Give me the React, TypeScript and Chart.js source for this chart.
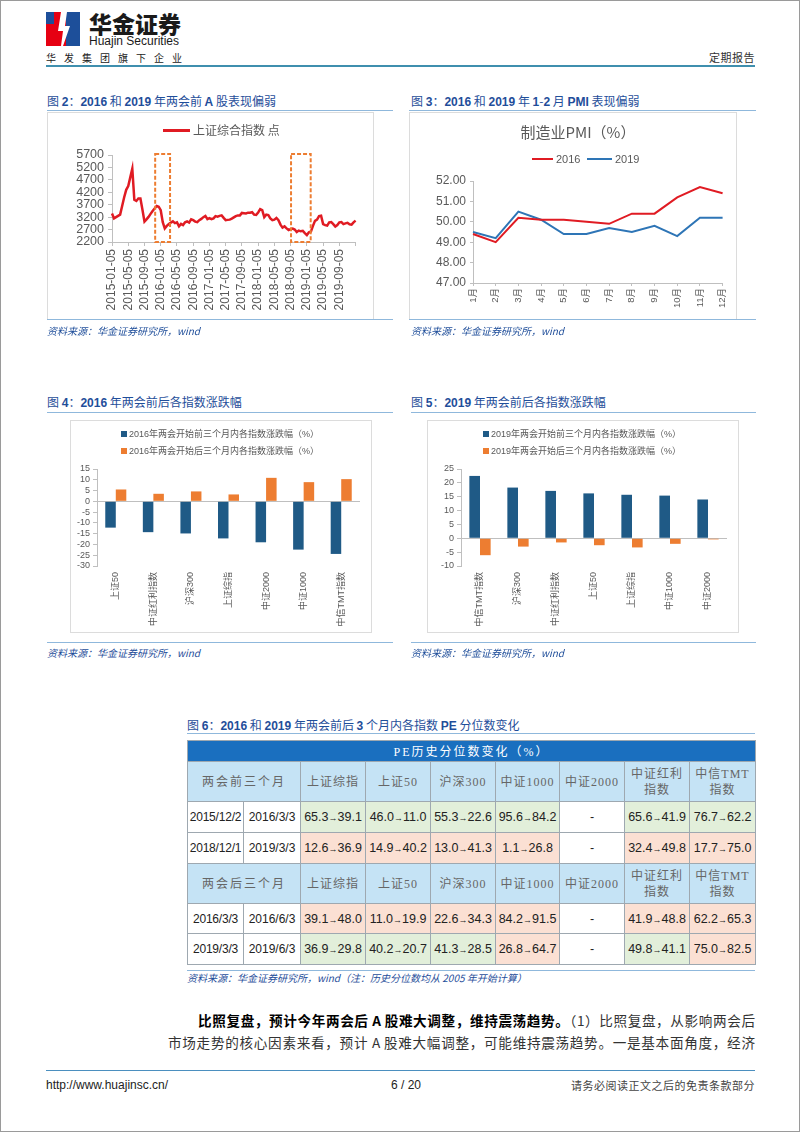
import React, { useEffect, useRef } from "react";
import { Chart, registerables } from "chart.js";
Chart.register(...registerables);

const FONT = '"Liberation Sans", Arial, "Noto Sans CJK SC", sans-serif';
const CJK = '"Noto Sans CJK SC", "Liberation Sans", sans-serif';
const SERIF = '"Liberation Serif", "Noto Sans CJK SC", serif';
const AX = "#bfbfbf";
const TXT = "#595959";
const TITLE_C = "#1f4e9a";
const RULE_C = "#8fb8dc";

// ---------- 图2 上证综合指数 ----------
const SH_DATES: string[] = [];
for (let i = 0; i <= 120; i++) {
  const m = Math.floor(i / 2);
  const y = 2015 + Math.floor(m / 12);
  const mo = (m % 12) + 1;
  SH_DATES.push(`${y}-${String(mo).padStart(2, "0")}-${i % 2 === 0 ? "05" : "20"}`);
}
const SH_INDEX = [
  3350, 3150, 3200, 3250, 3300, 3650, 4000, 4300, 4450, 4800,
  5150, 3900, 3850, 3950, 3950, 3500, 3020, 3110, 3210, 3330,
  3450, 3550, 3650, 3620, 3480, 3000, 2750, 2850, 2920, 2980,
  3030, 2960, 2990, 2830, 2930, 2880, 2990, 3030, 2980, 3110,
  3080, 3020, 3000, 3080, 3130, 3200, 3250, 3120, 3160, 3120,
  3150, 3240, 3220, 3250, 3270, 3170, 3080, 3090, 3100, 3140,
  3190, 3240, 3270, 3270, 3370, 3360, 3350, 3380, 3380, 3400,
  3300, 3290, 3390, 3520, 3480, 3200, 3300, 3280, 3150, 3080,
  3100, 3170, 3080, 2900, 2780, 2830, 2750, 2680, 2720, 2740,
  2700, 2600, 2660, 2630, 2650, 2560, 2480, 2590, 2620, 2850,
  3050, 3100, 3240, 3260, 2920, 2880, 2860, 2990, 3000, 2920,
  2820, 2880, 2990, 3000, 2920, 2950, 2970, 2910, 2900, 2990, 3060,
];
const SH_BOXES = [
  { from: "2015-11-24", to: "2016-03-14" },
  { from: "2018-09-08", to: "2019-02-03" },
];
const SH_BOX_VALUES = { low: 2200, high: 5740 };
const SH_LAST_LABEL = "2019-09-05";

// ---------- 图3 PMI ----------
const PMI_MONTHS = ["1月", "2月", "3月", "4月", "5月", "6月", "7月", "8月", "9月", "10月", "11月", "12月"];
const PMI_2016 = [49.4, 49.0, 50.2, 50.1, 50.1, 50.0, 49.9, 50.4, 50.4, 51.2, 51.7, 51.4];
const PMI_2019 = [49.5, 49.2, 50.5, 50.1, 49.4, 49.4, 49.7, 49.5, 49.8, 49.3, 50.2, 50.2];

// ---------- 图4 2016 ----------
const CATS_2016 = ["上证50", "中证红利指数", "沪深300", "上证综指", "中证2000", "中证1000", "中信TMT指数"];
const BEFORE_2016 = [-12.2, -14.3, -14.9, -17.2, -19.0, -22.4, -24.4];
const AFTER_2016 = [5.5, 3.5, 4.6, 3.2, 10.9, 8.9, 10.3];

// ---------- 图5 2019 ----------
const CATS_2019 = ["中信TMT指数", "沪深300", "中证红利指数", "上证50", "上证综指", "中证1000", "中证2000"];
const BEFORE_2019 = [22.5, 18.3, 17.1, 16.2, 15.7, 15.4, 14.0];
const AFTER_2019 = [-6.1, -3.0, -1.5, -2.5, -3.3, -2.0, -0.4];

// ---------- 图6 table ----------
const TABLE_COLS = ["上证综指", "上证50", "沪深300", "中证1000", "中证2000", "中证红利\n指数", "中信TMT\n指数"];
const PERIODS_BEFORE = [["2015/12/2", "2016/3/3"], ["2018/12/1", "2019/3/3"]];
const PERIODS_AFTER = [["2016/3/3", "2016/6/3"], ["2019/3/3", "2019/6/3"]];
const PE_BEFORE_2016 = [[65.3, 39.1], [46.0, 11.0], [55.3, 22.6], [95.6, 84.2], null, [65.6, 41.9], [76.7, 62.2]];
const PE_BEFORE_2019 = [[12.6, 36.9], [14.9, 40.2], [13.0, 41.3], [1.1, 26.8], null, [32.4, 49.8], [17.7, 75.0]];
const PE_AFTER_2016 = [[39.1, 48.0], [11.0, 19.9], [22.6, 34.3], [84.2, 91.5], null, [41.9, 48.8], [62.2, 65.3]];
const PE_AFTER_2019 = [[36.9, 29.8], [40.2, 20.7], [41.3, 28.5], [26.8, 64.7], null, [49.8, 41.1], [75.0, 82.5]];

const BAR_BLUE = "#1f5a86";
const BAR_ORANGE = "#ed7d31";
const RED = "#e01b23";
const BLUE = "#2e75b6";

function dateToIndex(d: string): number {
  const t = Date.parse(d);
  for (let i = 0; i < SH_DATES.length - 1; i++) {
    const a = Date.parse(SH_DATES[i]);
    const b = Date.parse(SH_DATES[i + 1]);
    if (t >= a && t <= b) return i + (t - a) / (b - a);
  }
  return SH_DATES.length - 1;
}

const boxPlugin = {
  id: "boxes",
  afterDatasetsDraw(chart: any) {
    const { ctx, scales } = chart;
    const x = scales.x;
    const y = scales.y;
    ctx.save();
    ctx.strokeStyle = "#ed7d31";
    ctx.lineWidth = 2;
    ctx.setLineDash([4, 2]);
    SH_BOXES.forEach((b) => {
      const x1 = x.getPixelForValue(dateToIndex(b.from));
      const x2 = x.getPixelForValue(dateToIndex(b.to));
      const y1 = y.getPixelForValue(SH_BOX_VALUES.high);
      const y2 = y.getPixelForValue(SH_BOX_VALUES.low);
      ctx.strokeRect(x1, y1, x2 - x1, y2 - y1);
    });
    ctx.restore();
  },
};

function ChartCanvas(props: { left: number; top: number; width: number; height: number; build: () => any }) {
  const ref = useRef<HTMLCanvasElement>(null);
  useEffect(() => {
    const chart = new Chart(ref.current as HTMLCanvasElement, props.build());
    return () => chart.destroy();
  }, []);
  return (
    <canvas
      ref={ref}
      width={props.width}
      height={props.height}
      style={{ position: "absolute", left: props.left, top: props.top, width: props.width, height: props.height }}
    />
  );
}

const baseOpts = {
  responsive: false,
  animation: false,
  devicePixelRatio: 1,
  plugins: { legend: { display: false }, tooltip: { enabled: false } },
};

const lastIdx = SH_DATES.indexOf(SH_LAST_LABEL);

function buildSH() {
  return {
    type: "line",
    data: {
      labels: SH_DATES,
      datasets: [
        { label: "上证综合指数 点", data: SH_INDEX, borderColor: RED, borderWidth: 2.5, pointRadius: 0, tension: 0, fill: false },
      ],
    },
    options: {
      ...baseOpts,
      layout: { padding: { top: 43, right: 15, left: 0, bottom: 0 } },
      scales: {
        x: {
          afterFit: (s: any) => { s.height = 77; },
          border: { display: true, color: AX },
          grid: {
            drawOnChartArea: false, drawTicks: true, tickLength: 4,
            tickColor: (c: any) => (c.index % 8 === 0 ? AX : "rgba(0,0,0,0)"),
          },
          ticks: {
            autoSkip: false, maxRotation: 90, minRotation: 90, padding: 3,
            font: { size: 12, family: FONT }, color: TXT,
            callback: (_v: any, i: number) => (i % 8 === 0 && i <= lastIdx ? SH_DATES[i] : ""),
          },
        },
        y: {
          min: 2200, max: 5700,
          afterFit: (s: any) => { s.width = 65; },
          border: { display: true, color: AX },
          grid: { drawOnChartArea: false, tickLength: 4, tickColor: AX },
          ticks: { autoSkip: false, stepSize: 500, padding: 4, font: { size: 12.5, family: FONT }, color: TXT, callback: (v: any) => String(v) },
        },
      },
    },
    plugins: [boxPlugin],
  };
}

function buildPMI() {
  return {
    type: "line",
    data: {
      labels: PMI_MONTHS,
      datasets: [
        { label: "2016", data: PMI_2016, borderColor: RED, borderWidth: 2, pointRadius: 0, tension: 0 },
        { label: "2019", data: PMI_2019, borderColor: BLUE, borderWidth: 2, pointRadius: 0, tension: 0 },
      ],
    },
    options: {
      ...baseOpts,
      layout: { padding: { top: 69, right: 11, left: 0, bottom: 0 } },
      scales: {
        x: {
          afterFit: (s: any) => { s.height = 36; },
          border: { display: true, color: AX },
          grid: { drawOnChartArea: false, tickLength: 3, tickColor: AX },
          ticks: { autoSkip: false, maxRotation: 90, minRotation: 90, padding: 2, font: { size: 9.5, family: FONT }, color: TXT },
        },
        y: {
          min: 47, max: 52,
          afterFit: (s: any) => { s.width = 64; },
          border: { display: true, color: AX },
          grid: { drawOnChartArea: false, tickLength: 3, tickColor: AX },
          ticks: { autoSkip: false, stepSize: 1, padding: 4, font: { size: 12, family: FONT }, color: TXT, callback: (v: any) => Number(v).toFixed(2) },
        },
      },
    },
  };
}

function buildBars(cats: string[], before: number[], after: number[], labels: string[], min: number, max: number, yWidth: number) {
  return {
    type: "bar",
    data: {
      labels: cats,
      datasets: [
        { label: labels[0], data: before, backgroundColor: BAR_BLUE, categoryPercentage: 0.56, barPercentage: 1.0 },
        { label: labels[1], data: after, backgroundColor: BAR_ORANGE, categoryPercentage: 0.56, barPercentage: 1.0 },
      ],
    },
    options: {
      ...baseOpts,
      layout: { padding: { top: 49, right: 11, left: 0, bottom: 0 } },
      scales: {
        x: {
          afterFit: (s: any) => { s.height = 66; },
          border: { display: false },
          grid: { display: false, drawTicks: false },
          ticks: { autoSkip: false, maxRotation: 90, minRotation: 90, padding: 6, font: { size: 9, family: FONT }, color: TXT },
        },
        y: {
          min, max,
          afterFit: (s: any) => { s.width = yWidth; },
          border: { display: true, color: AX },
          grid: {
            drawOnChartArea: true,
            color: (c: any) => (c.tick && c.tick.value === 0 ? AX : "rgba(0,0,0,0)"),
            tickColor: AX, tickLength: 4,
          },
          ticks: { autoSkip: false, stepSize: 5, padding: 3, font: { size: 9, family: FONT }, color: TXT, callback: (v: any) => String(v) },
        },
      },
    },
  };
}

function abs(left: number, top: number, extra: any = {}) {
  return { position: "absolute" as const, left, top, ...extra };
}

function Title(props: { text: string; left: number; cy: number }) {
  const parts = props.text.split(/([0-9A-Za-z]+)/);
  return (
    <div style={abs(props.left, props.cy - 8, { fontSize: 12, lineHeight: "16px", color: TITLE_C, fontFamily: CJK, whiteSpace: "nowrap" })}>
      {parts.map((p, i) =>
        /[0-9A-Za-z]/.test(p) ? (
          <b key={i} style={{ fontFamily: FONT }}>{p}</b>
        ) : (
          <span key={i}>{p}</span>
        )
      )}
    </div>
  );
}

function Rule(props: { left: number; top: number; width: number; color?: string; h?: number }) {
  return <div style={abs(props.left, props.top, { width: props.width, height: props.h || 1, background: props.color || RULE_C })} />;
}

function Source(props: { left: number; cy: number; text: string }) {
  return (
    <div style={abs(props.left, props.cy - 7, { fontSize: 10, lineHeight: "14px", fontStyle: "italic", color: TITLE_C, fontFamily: CJK, whiteSpace: "nowrap" })}>
      {props.text}
    </div>
  );
}

function Box(props: { left: number; top: number; right: number; bottom: number }) {
  return (
    <div
      style={abs(props.left, props.top, {
        width: props.right - props.left, height: props.bottom - props.top,
        border: "1px solid #dcdcdc", boxSizing: "border-box", pointerEvents: "none",
      })}
    />
  );
}

function SqLegend(props: { left: number; cy: number; color: string; text: string }) {
  return (
    <div style={abs(props.left, props.cy - 7, { height: 14, display: "flex", alignItems: "center", whiteSpace: "nowrap" })}>
      <div style={{ width: 6, height: 6, background: props.color, marginRight: 2 }} />
      <span style={{ fontSize: 9, color: TXT, fontFamily: FONT, lineHeight: "14px" }}>{props.text}</span>
    </div>
  );
}

const BORDER = "1px solid #9ea8b0";

function peCell(v: number[] | null, key: number) {
  const base: any = { border: BORDER, textAlign: "center", fontFamily: FONT, fontSize: 12.5, color: "#222", padding: 0 };
  if (!v) return <td key={key} style={{ ...base, background: "#ffffff" }}>-</td>;
  const bg = v[1] < v[0] ? "#e2efda" : "#fbe0d3";
  return (
    <td key={key} style={{ ...base, background: bg, whiteSpace: "nowrap" }}>
      {v[0].toFixed(1)}
      <span style={{ fontSize: 9 }}>→</span>
      {v[1].toFixed(1)}
    </td>
  );
}

function headRow(label: string, h: number) {
  const st: any = { border: BORDER, background: "#c5e3f5", textAlign: "center", fontFamily: SERIF, fontSize: 12, color: "#666", lineHeight: "16px", padding: 0, height: h };
  return (
    <tr>
      <td colSpan={2} style={{ ...st, letterSpacing: 2 }}>{label}</td>
      {TABLE_COLS.map((c, i) => (
        <td key={i} style={{ ...st, letterSpacing: 1 }}>
          {c.split("\n").map((s, j) => (
            <div key={j}>{s}</div>
          ))}
        </td>
      ))}
    </tr>
  );
}

function dataRow(period: string[], vals: (number[] | null)[], h: number) {
  const st: any = { border: BORDER, textAlign: "center", fontFamily: FONT, fontSize: 12, color: "#222", padding: 0, height: h, background: "#fff", whiteSpace: "nowrap" };
  return (
    <tr>
      <td style={{ ...st, letterSpacing: -0.2 }}>{period[0]}</td>
      <td style={st}>{period[1]}</td>
      {vals.map((v, i) => peCell(v, i))}
    </tr>
  );
}

function Logo() {
  return (
    <svg width={34} height={34} viewBox="0 0 34 34" style={abs(46, 12)}>
      <rect x={0} y={0} width={34} height={34} fill="#e60012" />
      <rect x={20} y={0} width={14} height={34} fill="#1d4f9a" />
      <rect x={0} y={0} width={8} height={12} fill="#1d4f9a" />
      <polygon points="15,0 21,0 19,14 24,14 17,34 15,34 17,19 12,19" fill="#ffffff" />
    </svg>
  );
}

export default function App() {
  useEffect(() => {
    document.body.style.margin = "0";
  }, []);
  const colW = [56, 57, 65, 65, 65, 64, 65, 65, 66];
  return (
    <div style={{ position: "absolute", left: 0, top: 0, width: 802, height: 1133, background: "#fff", overflow: "hidden", fontFamily: CJK }}>
      <div style={abs(0, 0, { width: 800, height: 1132, border: "1px solid #9a9a9a", boxSizing: "border-box" })} />

      {/* header */}
      <Logo />
      <div style={abs(89, 10, { fontSize: 23, fontWeight: 900, lineHeight: "27px", color: "#1a1a1a", fontFamily: CJK, whiteSpace: "nowrap" })}>华金证券</div>
      <div style={abs(89, 34, { fontSize: 12, lineHeight: "14px", color: "#1a1a1a", fontFamily: FONT, whiteSpace: "nowrap" })}>Huajin Securities</div>
      <div style={abs(46, 51, { fontSize: 10, lineHeight: "14px", letterSpacing: 8, color: "#222", whiteSpace: "nowrap" })}>华发集团旗下企业</div>
      <div style={abs(700, 49, { width: 55, textAlign: "right", fontSize: 11, lineHeight: "16px", letterSpacing: 0.5, color: "#333", whiteSpace: "nowrap" })}>定期报告</div>
      <Rule left={46} top={65} width={709} h={2} color="#3f8fae" />

      {/* 图2 */}
      <Title text="图 2：2016 和 2019 年两会前 A 股表现偏弱" left={47} cy={101} />
      <Rule left={47} top={110} width={346} />
      <ChartCanvas left={47} top={112} width={326} height={207} build={buildSH} />
      <Box left={47} top={112} right={374} bottom={320} />
      <div style={abs(163, 129, { width: 27, height: 3, background: RED })} />
      <div style={abs(193, 122, { fontSize: 12, lineHeight: "16px", color: TXT, whiteSpace: "nowrap" })}>上证综合指数 点</div>
      <Rule left={47} top={319} width={346} />
      <Source left={47} cy={331} text="资料来源：华金证券研究所，wind" />

      {/* 图3 */}
      <Title text="图 3：2016 和 2019 年 1-2 月 PMI 表现偏弱" left={411} cy={101} />
      <Rule left={409} top={110} width={347} />
      <ChartCanvas left={409} top={112} width={327} height={207} build={buildPMI} />
      <Box left={409} top={112} right={737} bottom={320} />
      <div style={abs(478, 121, { width: 200, textAlign: "center", fontSize: 15, lineHeight: "22px", color: TXT, whiteSpace: "nowrap" })}>制造业PMI（%）</div>
      <div style={abs(532, 158, { width: 21, height: 2, background: RED })} />
      <div style={abs(556, 152, { fontSize: 11, lineHeight: "14px", color: TXT, fontFamily: FONT })}>2016</div>
      <div style={abs(587, 158, { width: 25, height: 2, background: BLUE })} />
      <div style={abs(615, 152, { fontSize: 11, lineHeight: "14px", color: TXT, fontFamily: FONT })}>2019</div>
      <Rule left={409} top={319} width={347} />
      <Source left={411} cy={331} text="资料来源：华金证券研究所，wind" />

      {/* 图4 */}
      <Title text="图 4：2016 年两会前后各指数涨跌幅" left={47} cy={402} />
      <Rule left={47} top={412} width={346} />
      <ChartCanvas
        left={70} top={420} width={301} height={212}
        build={() => buildBars(CATS_2016, BEFORE_2016, AFTER_2016, ["2016年两会开始前三个月内各指数涨跌幅（%）", "2016年两会开始后三个月内各指数涨跌幅（%）"], -30, 15, 27)}
      />
      <Box left={70} top={420} right={372} bottom={633} />
      <SqLegend left={121} cy={434} color={BAR_BLUE} text="2016年两会开始前三个月内各指数涨跌幅（%）" />
      <SqLegend left={121} cy={451} color={BAR_ORANGE} text="2016年两会开始后三个月内各指数涨跌幅（%）" />
      <Rule left={47} top={642} width={346} />
      <Source left={47} cy={653} text="资料来源：华金证券研究所，wind" />

      {/* 图5 */}
      <Title text="图 5：2019 年两会前后各指数涨跌幅" left={411} cy={402} />
      <Rule left={411} top={412} width={345} />
      <ChartCanvas
        left={427} top={420} width={311} height={212}
        build={() => buildBars(CATS_2019, BEFORE_2019, AFTER_2019, ["2019年两会开始前三个月内各指数涨跌幅（%）", "2019年两会开始后三个月内各指数涨跌幅（%）"], -10, 25, 34)}
      />
      <Box left={427} top={420} right={739} bottom={633} />
      <SqLegend left={483} cy={434} color={BAR_BLUE} text="2019年两会开始前三个月内各指数涨跌幅（%）" />
      <SqLegend left={483} cy={451} color={BAR_ORANGE} text="2019年两会开始后三个月内各指数涨跌幅（%）" />
      <Rule left={411} top={642} width={345} />
      <Source left={411} cy={653} text="资料来源：华金证券研究所，wind" />

      {/* 图6 table */}
      <Title text="图 6：2016 和 2019 年两会前后 3 个月内各指数 PE 分位数变化" left={187} cy={725} />
      <Rule left={187} top={733} width={568} />
      <table style={abs(187, 740, { width: 568, borderCollapse: "collapse", tableLayout: "fixed" })}>
        <colgroup>
          {colW.map((w, i) => (
            <col key={i} style={{ width: w }} />
          ))}
        </colgroup>
        <tbody>
          <tr>
            <td colSpan={9} style={{ border: BORDER, background: "#1a6fbf", color: "#fff", textAlign: "center", fontFamily: SERIF, fontSize: 12, letterSpacing: 2, height: 20, padding: 0 }}>
              PE历史分位数变化（%）
            </td>
          </tr>
          {headRow("两会前三个月", 39)}
          {dataRow(PERIODS_BEFORE[0], PE_BEFORE_2016, 30)}
          {dataRow(PERIODS_BEFORE[1], PE_BEFORE_2019, 30)}
          {headRow("两会后三个月", 39)}
          {dataRow(PERIODS_AFTER[0], PE_AFTER_2016, 29)}
          {dataRow(PERIODS_AFTER[1], PE_AFTER_2019, 30)}
        </tbody>
      </table>
      <Rule left={187} top={970} width={568} />
      <Source left={187} cy={978} text="资料来源：华金证券研究所，wind（注：历史分位数均从 2005 年开始计算）" />

      {/* body text */}
      <div style={abs(198, 1009, { width: 557, fontSize: 13.6, lineHeight: "22px", textAlign: "justify", textAlignLast: "justify", color: "#333" })}>
        <b style={{ color: "#000" }}>比照复盘，预计今年两会后 A 股难大调整，维持震荡趋势。</b>
        <span>（1）比照复盘，从影响两会后</span>
      </div>
      <div style={abs(168, 1031, { width: 587, fontSize: 13.6, lineHeight: "22px", textAlign: "justify", textAlignLast: "justify", color: "#333" })}>
        市场走势的核心因素来看，预计 A 股难大幅调整，可能维持震荡趋势。一是基本面角度，经济
      </div>

      {/* footer */}
      <Rule left={46} top={1070} width={709} color="#4b8fbf" />
      <div style={abs(46, 1078, { fontSize: 12, lineHeight: "14px", color: "#222", fontFamily: FONT })}>http://www.huajinsc.cn/</div>
      <div style={abs(376, 1078, { width: 60, textAlign: "center", fontSize: 12, lineHeight: "14px", color: "#222", fontFamily: FONT })}>6 / 20</div>
      <div style={abs(555, 1078, { width: 200, textAlign: "right", fontSize: 11, letterSpacing: 0.5, lineHeight: "14px", color: "#444", whiteSpace: "nowrap" })}>请务必阅读正文之后的免责条款部分</div>
    </div>
  );
}
